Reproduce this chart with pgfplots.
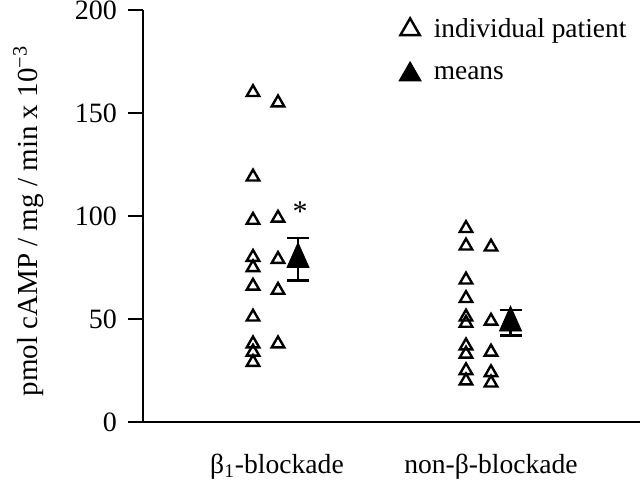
\documentclass[border=0pt]{standalone}
\usepackage{fontspec}
\setmainfont{Liberation Serif}
\usepackage{pgfplots}
\pgfplotsset{compat=1.18}

\begin{document}
\begin{tikzpicture}
\begin{axis}[
    scale only axis,
    width=248.5pt, height=206pt,
    xmin=0, xmax=497,
    ymin=0, ymax=200,
    axis x line*=bottom,
    axis y line*=left,
    axis line style={line width=1.3pt, -},
    xtick={134,348},
    xticklabels={β\textsubscript{1}-blockade, non-β-blockade},
    x tick style={draw=none},
    ytick={0,50,100,150,200},
    y tick style={line width=1.3pt, black},
    tick align=outside,
    major tick length=7.5pt,
    /pgf/number format/assume math mode=true,
    yticklabel style={font=\fontsize{14}{16}\selectfont, xshift=-2pt},
    xticklabel style={font=\fontsize{13.8}{16}\selectfont, yshift=-5pt},
    ylabel={pmol cAMP / mg / min x 10\textsuperscript{−3}},
    ylabel style={font=\fontsize{14.5}{16}\selectfont, at={(axis description cs:-0.231,0.488)}, anchor=center},
    legend style={draw=none, fill=none, at={(axis cs:257,198)}, anchor=north west,
        font=\fontsize{13.7}{16}\selectfont, row sep=9pt, inner sep=0pt,
        /tikz/every odd column/.append style={column sep=5pt}},
    legend cell align=left,
    legend image code/.code={\draw[#1, mark size=5.6pt, mark options={line width=1.2pt, solid}] plot coordinates {(0pt,0pt)};},
]

% individual patients, beta1-blockade and non-beta-blockade
\addplot[only marks, mark=triangle, mark size=3.6pt, mark options={line width=1.2pt, solid}]
    coordinates {
    (110,160)(110,119)(110,98)(110,80)(110,75)(110,66)(110,51)(110,38)(110,34)(110,29)
    (135,155)(135,99)(135,79)(135,64)(135,38)
    (323,94)(323,85.5)(323,69)(323,60)(323,51)(323,48)(323,37)(323,33)(323,25)(323,20)
    (348,85)(348,49)(348,34)(348,24)(348,19)
    };

% means with error bars
\addplot[only marks, mark=triangle*, mark size=8.3pt, mark options={xscale=0.77},
    error bars/.cd, y dir=both, y explicit,
    error bar style={line width=1.3pt},
    error mark options={rotate=90, mark size=5.5pt, line width=1.3pt}]
    coordinates {
    (155,79) +- (0,10.4)
    (367.5,48.2) +- (0,6.1)
    };

\legend{individual patient, means}

\node[font=\fontsize{15}{15}\selectfont] at (axis cs:157,102) {*};
\end{axis}
\pgfresetboundingbox
\path[use as bounding box] (current axis.south west) ++(-71.5pt,-30.5pt) rectangle ++(320pt,241.5pt);
\end{tikzpicture}
\end{document}
